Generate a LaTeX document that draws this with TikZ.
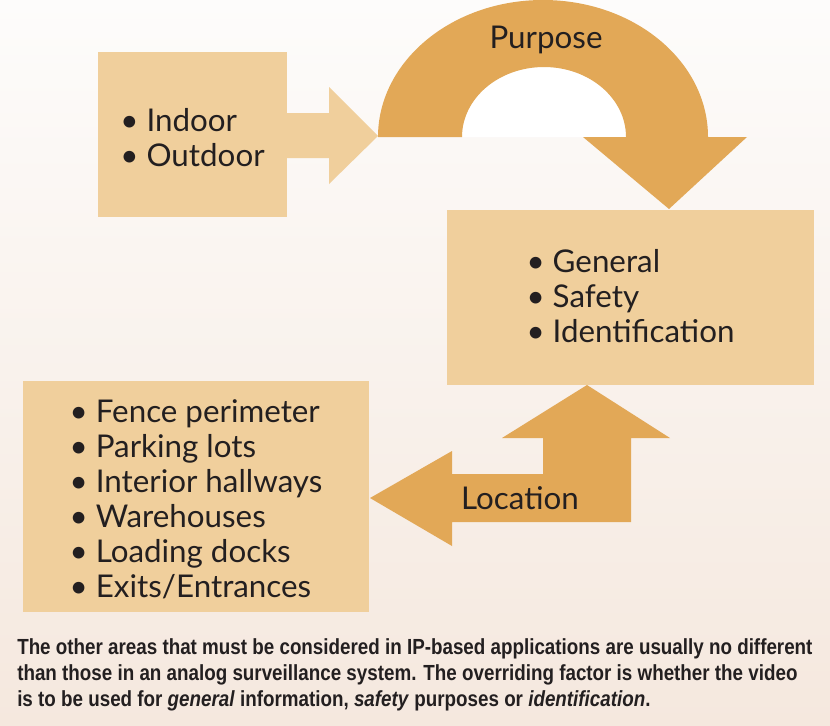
\documentclass[tikz,border=0pt]{standalone}
\usepackage{fontspec}
\setmainfont{Lato}
\newfontfamily\capfont[FakeStretch=0.86]{Liberation Sans}
\definecolor{boxfill}{HTML}{F0CF9C}
\definecolor{arrowfill}{HTML}{E2A857}
\definecolor{ink}{HTML}{231F20}
\definecolor{bgtop}{HTML}{FDFCFB}
\definecolor{bgbot}{HTML}{F5E8DE}
\begin{document}
\begin{tikzpicture}[x=0.75pt,y=-0.75pt,
  box/.style={fill=boxfill, draw=none, align=left, text=ink, inner sep=0pt,
    font=\fontsize{23.5}{26.25}\selectfont},
  darkarrow/.style={fill=arrowfill, draw=none},
  lightarrow/.style={fill=boxfill, draw=none},
  lbl/.style={text=ink, font=\fontsize{23.5}{26.25}\selectfont, inner sep=0pt}]
\useasboundingbox (0,0) rectangle (830,725);
\shade[top color=bgtop, bottom color=bgbot] (0,0) rectangle (830,725);

% boxes
\path[fill=boxfill] (98,52) rectangle (287,217);
\node[box] (env) at (192.5,138)
  {\textbullet\ Indoor\\\textbullet\ Outdoor};
\path[fill=boxfill] (447,210) rectangle (814,385);
\node[box] (purp) at (630.5,296)
  {\textbullet\ General\\\textbullet\ Safety\\\textbullet\ Identification};
\path[fill=boxfill] (23,381) rectangle (369,612);
\node[box] (loclist) at (196,499)
  {\textbullet\ Fence perimeter\\\textbullet\ Parking lots\\\textbullet\ Interior hallways\\\textbullet\ Warehouses\\\textbullet\ Loading docks\\\textbullet\ Exits/Entrances};

% light arrow env -> arch
\fill[lightarrow] (286,113) -- (329,113) -- (329,87) -- (378,136)
  -- (329,184) -- (329,158) -- (286,158) -- cycle;

% purpose arch
\fill[white] (462,137) arc[start angle=180, end angle=360, x radius=82, y radius=70] -- cycle;
\fill[darkarrow] (378,137) arc[start angle=180, end angle=360, x radius=165, y radius=137]
  -- (747,137) -- (669,209) -- (583,137) -- (626,137)
  arc[start angle=360, end angle=180, x radius=82, y radius=70] -- cycle;
\node[lbl] (purpose) at (546,40) {Purpose};

% location arrow
\fill[darkarrow] (370,498) -- (452,451) -- (452,474) -- (543,474) -- (543,438)
  -- (502,438) -- (587,385) -- (670,438) -- (631,438) -- (631,522)
  -- (452,522) -- (452,546) -- cycle;
\node[lbl] (location) at (520,498) {Location};

% caption
\node[anchor=base west, align=left, inner sep=0pt, text=ink,
  font=\capfont\bfseries\fontsize{16.4}{19.5}\selectfont] (caption) at (17,706)
  {The other areas that must be considered in IP-based applications are usually no different\\
   than those in an analog surveillance system. The overriding factor is whether the video\\
   is to be used for \textit{general} information, \textit{safety} purposes or \textit{identification}.};
\end{tikzpicture}
\end{document}
